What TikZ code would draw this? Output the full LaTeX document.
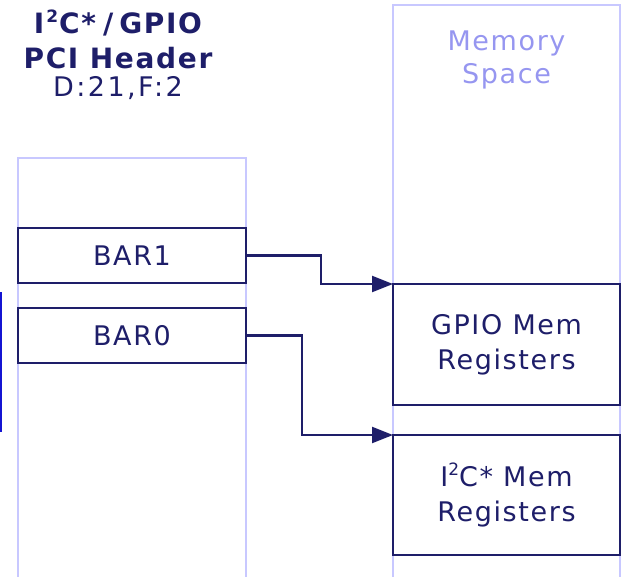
\documentclass[tikz,border=0pt]{standalone}
\usepackage{fontspec}
\setmainfont{DejaVu Sans}
\usetikzlibrary{arrows.meta}
\definecolor{navy}{RGB}{30,30,105}
\definecolor{lav}{RGB}{200,200,255}
\definecolor{lavtext}{RGB}{150,150,240}
\definecolor{brightblue}{RGB}{20,20,210}
\newcommand{\bodyfont}{\fontsize{27}{35}\selectfont\addfontfeature{LetterSpace=6}}
\newcommand{\suptwo}{\raisebox{0.38em}{\fontsize{17}{17}\selectfont 2}}
\tikzset{
  regbox/.style={draw=navy, line width=2.2pt, inner sep=0pt, outer sep=0pt, text=navy, align=center,
    font=\bodyfont},
  col/.style={draw=lav, line width=1.6pt},
  link/.style={draw=navy, line width=2.2pt, -{Triangle[length=21pt,width=16pt]}},
  ttl/.style={text=navy, inner sep=0pt, font=\bfseries\fontsize{28}{30}\selectfont\addfontfeature{LetterSpace=6}},
}
\begin{document}
\begin{tikzpicture}[x=1pt,y=-1pt]
\useasboundingbox (0,0) rectangle (623,577);
% columns
\draw[col] (18,577) -- (18,158) -- (246,158) -- (246,577);
\draw[col] (393,577) -- (393,5) -- (620,5) -- (620,577);
\node[text=lavtext, align=center, inner sep=0pt, font=\fontsize{27}{33}\selectfont\addfontfeature{LetterSpace=6}] (mem) at (506.5,60) {Memory\\Space};
% header title
\node[ttl] (t1) at (118,23) {I\hspace{2pt}\suptwo\hspace{1pt}C*\hspace{7pt}/\hspace{6pt}GPIO};
\node[ttl] (t2) at (118,58) {PCI Header};
\node[text=navy, inner sep=0pt, font=\fontsize{27}{30}\selectfont\addfontfeature{LetterSpace=9}] (t3) at (118,88) {D:21,F:2};
% left partial line
\draw[brightblue, line width=1.8pt] (1,292) coordinate (lt) -- (1,432) coordinate (lb);
% BAR boxes
\node[regbox, minimum width=228pt, minimum height=55pt] (bar1) at (132,255.5) {BAR1};
\node[regbox, minimum width=228pt, minimum height=55pt] (bar0) at (132,335.5) {BAR0};
% memory regions
\node[regbox, minimum width=227pt, minimum height=121pt] (gpio) at (506.5,344.5) {GPIO Mem\\Registers};
\node[regbox, minimum width=227pt, minimum height=120pt] (i2c) at (506.5,495) {I\suptwo C* Mem\\Registers};
% arrows
\draw[link] (bar1.east) -- ++(75,0) |- (gpio.north west);
\draw[link] (bar0.east) -- ++(56,0) |- (i2c.north west);
\end{tikzpicture}
\end{document}
